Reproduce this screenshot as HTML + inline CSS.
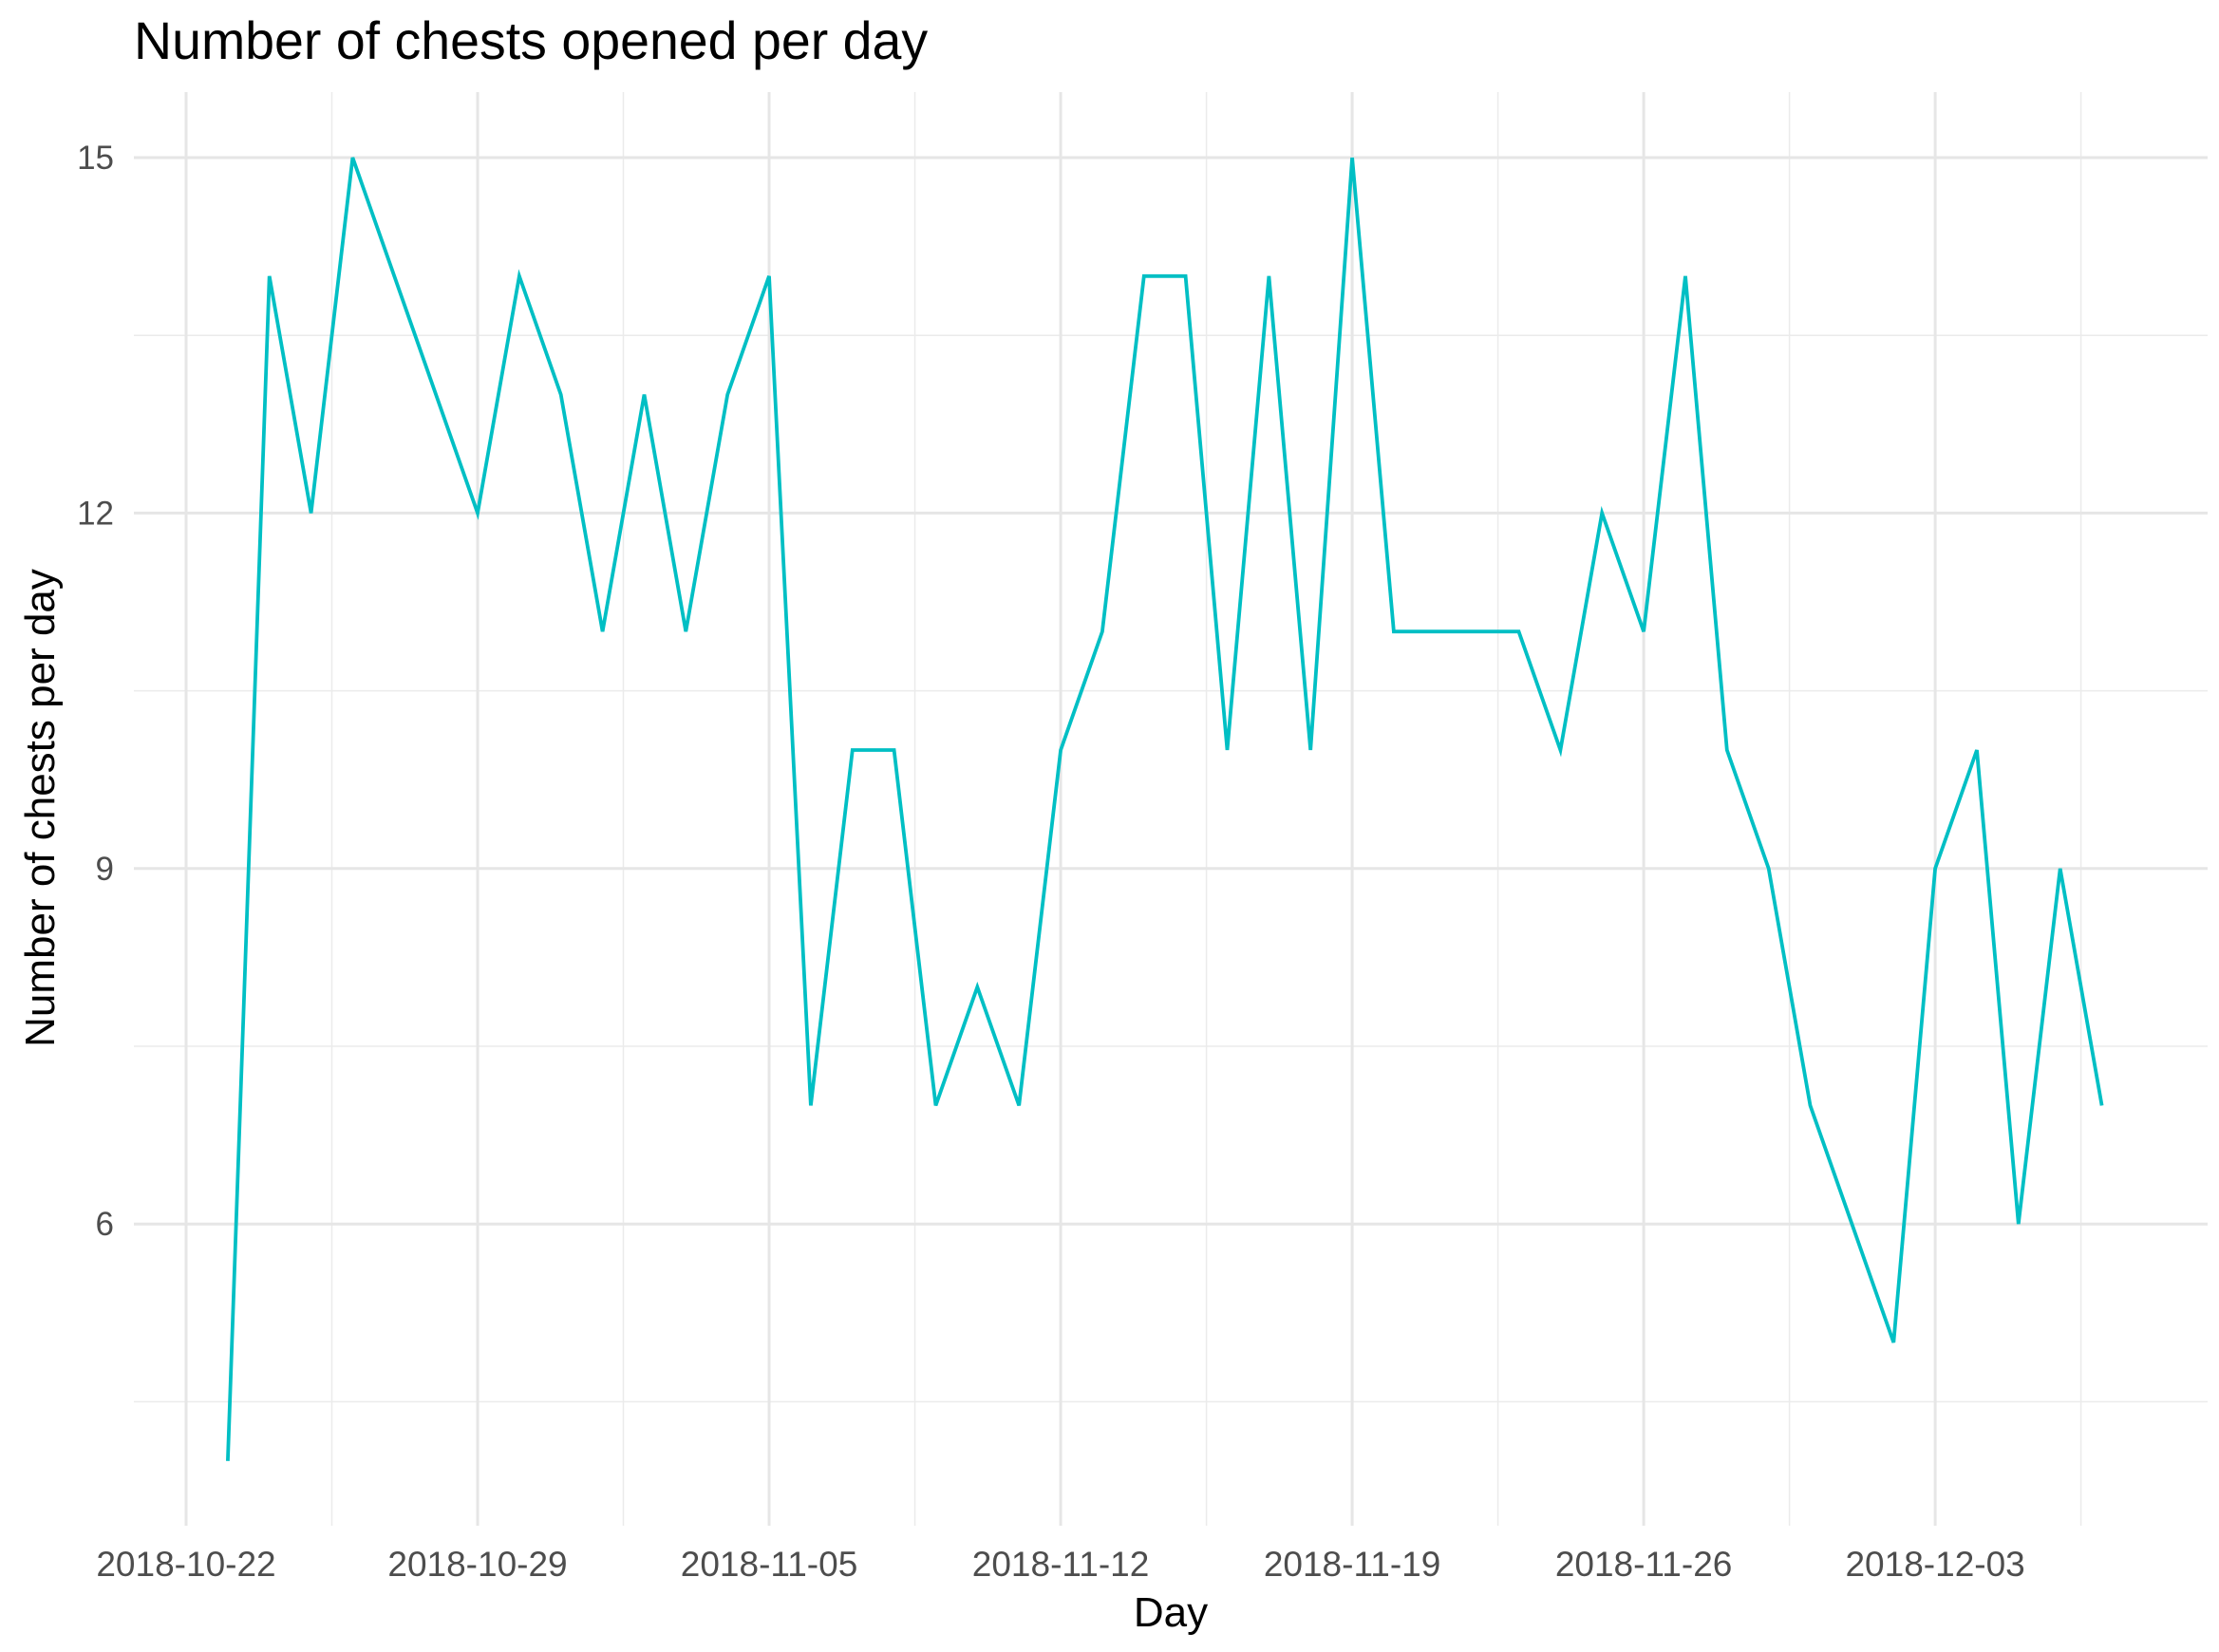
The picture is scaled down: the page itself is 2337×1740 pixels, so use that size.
<!DOCTYPE html>
<html><head><meta charset="utf-8"><style>
html,body{margin:0;padding:0;background:#fff;}
svg{display:block;font-family:"Liberation Sans",Arial,sans-serif;}
</style></head><body>
<svg id="chart" width="2337" height="1740" viewBox="0 0 2337 1740">
<text x="141" y="62" font-size="55.5" fill="#000">Number of chests opened per day</text>
<g id="grid"></g>
<g id="yticks"></g>
<g id="xticks"></g>
<g id="series"></g>
<text x="1233" y="1713" font-size="44" text-anchor="middle" fill="#000">Day</text>
<text transform="translate(57,851) rotate(-90)" font-size="44" text-anchor="middle" fill="#000">Number of chests per day</text>
</svg>
<script>
const dates = ["2018-10-23","2018-10-24","2018-10-25","2018-10-26","2018-10-29","2018-10-30","2018-10-31","2018-11-01","2018-11-02","2018-11-03","2018-11-04","2018-11-05","2018-11-06","2018-11-07","2018-11-08","2018-11-09","2018-11-10","2018-11-11","2018-11-12","2018-11-13","2018-11-14","2018-11-15","2018-11-16","2018-11-17","2018-11-18","2018-11-19","2018-11-20","2018-11-23","2018-11-24","2018-11-25","2018-11-26","2018-11-27","2018-11-28","2018-11-29","2018-11-30","2018-12-02","2018-12-03","2018-12-04","2018-12-05","2018-12-06","2018-12-07"];
const chests = [4,14,12,15,12,14,13,11,13,11,13,14,7,10,10,7,8,7,10,11,14,14,10,14,10,15,11,11,10,12,11,14,10,9,7,5,9,10,6,9,7];
const xTickLabels = ["2018-10-22","2018-10-29","2018-11-05","2018-11-12","2018-11-19","2018-11-26","2018-12-03"];
const yTickValues = [6,9,12,15];
const yMinorValues = [4.5,7.5,10.5,13.5];

const NS = "http://www.w3.org/2000/svg";
const ORIGIN = Date.UTC(2018,9,22);
const PL=141, PR=2325, PT=97, PB=1607;
function dayOf(s){const p=s.split("-").map(Number);return (Date.UTC(p[0],p[1]-1,p[2])-ORIGIN)/86400000;}
function xScale(d){return 196 + d*43.86;}
function yScale(v){return 166 + (15-v)*124.8;}
function mk(tag, attrs, parent){const e=document.createElementNS(NS,tag);for(const k in attrs)e.setAttribute(k,attrs[k]);parent.appendChild(e);return e;}

const grid=document.getElementById("grid");
yMinorValues.forEach(v=>{
  const l=mk("line",{x1:PL,x2:PR,y1:yScale(v),y2:yScale(v),stroke:"#ebebeb","stroke-width":1.5},grid);
  
  
});
xTickLabels.forEach(s=>{
  const x=xScale(dayOf(s)+3.5);
  if(x<PR){
    const l=mk("line",{x1:x,x2:x,y1:PT,y2:PB,stroke:"#ebebeb","stroke-width":1.5},grid);
    
    
  }
});
const yt=document.getElementById("yticks");
yTickValues.forEach(v=>{
  const y=yScale(v);
  const l=mk("line",{x1:PL,x2:PR,y1:y,y2:y,stroke:"#e6e6e6","stroke-width":3},grid);
  
  
  const t=mk("text",{x:120,y:y+12,"font-size":35,"text-anchor":"end",fill:"#4d4d4d"},yt);
  t.textContent=v;
  
  
});
const xt=document.getElementById("xticks");
xTickLabels.forEach(s=>{
  const x=xScale(dayOf(s));
  const l=mk("line",{x1:x,x2:x,y1:PT,y2:PB,stroke:"#e6e6e6","stroke-width":3},grid);
  
  
  const t=mk("text",{x:x,y:1660,"font-size":37,"text-anchor":"middle",fill:"#4d4d4d"},xt);
  t.textContent=s;
  
  
});
const pts=dates.map((s,i)=>xScale(dayOf(s)).toFixed(1)+","+yScale(chests[i]).toFixed(1)).join(" ");
const line=mk("polyline",{points:pts,fill:"none",stroke:"#00BFC4","stroke-width":3.8,"stroke-linejoin":"miter"},document.getElementById("series"));


</script>
</body></html>
